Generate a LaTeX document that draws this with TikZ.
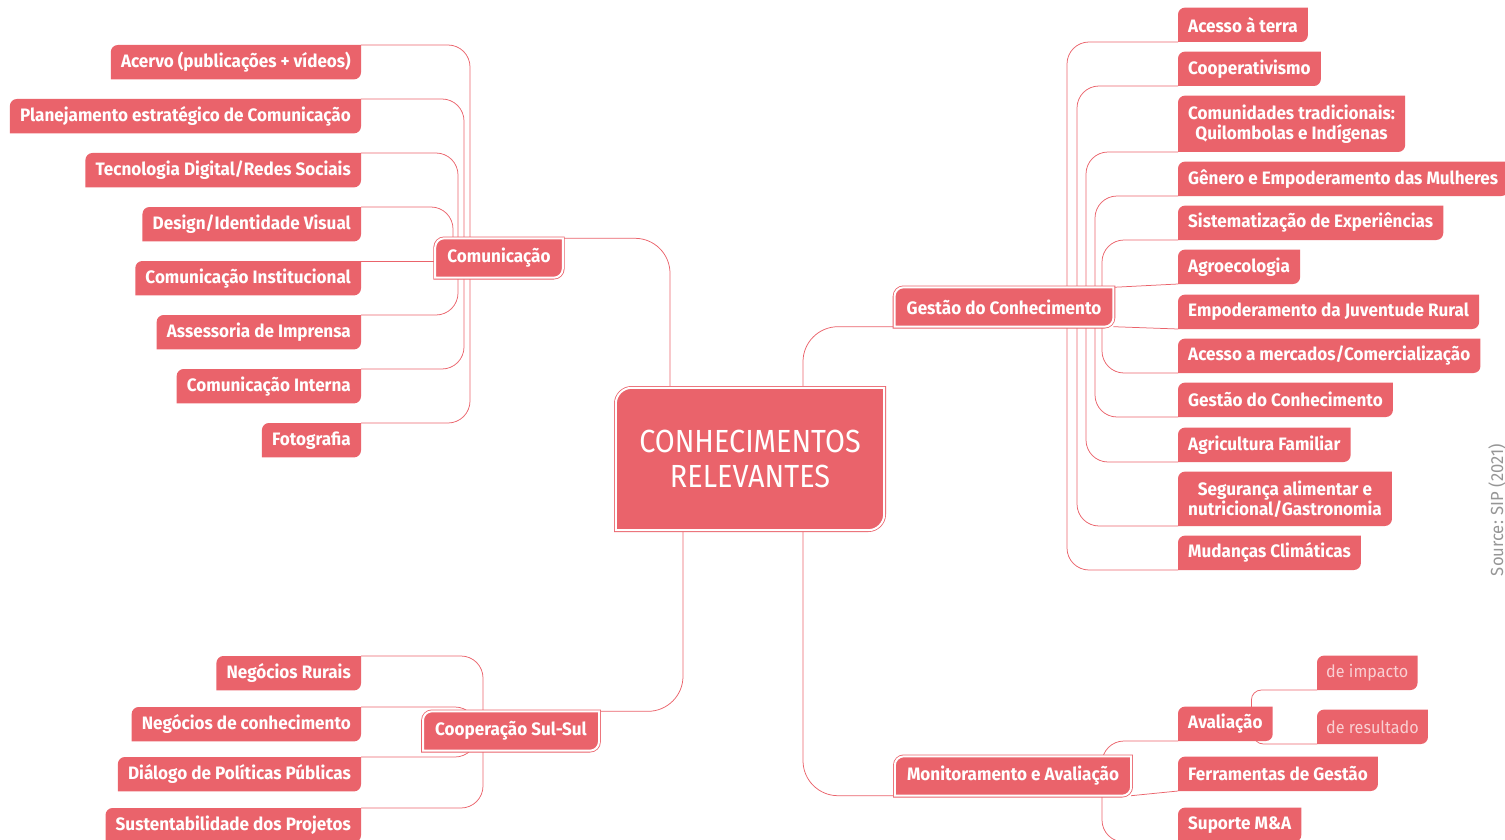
\documentclass[tikz,border=0pt]{standalone}
\usepackage{fontspec}
\setmainfont{Fira Sans}[FakeStretch=0.95]
\newfontfamily\titlefont{Fira Sans}[FakeStretch=0.9]
\usetikzlibrary{backgrounds}

\definecolor{mappink}{RGB}{234,99,107}
\definecolor{softpink}{RGB}{249,208,211}
\definecolor{sourcegray}{RGB}{150,150,150}

\tikzset{
  hub/.style={text=white, font=\titlefont\fontsize{32}{35}\selectfont, align=center,
    minimum width=268, minimum height=142, inner sep=0},
  branch/.style={text=white, font=\bfseries\fontsize{18}{20}\selectfont,
    minimum height=39, inner xsep=12, inner ysep=0},
  leaf/.style={text=white, font=\bfseries\fontsize{18}{20}\selectfont, align=center,
    minimum height=34, inner xsep=10, inner ysep=0},
  subleaf/.style={text=softpink, font=\fontsize{17}{20}\selectfont,
    minimum height=34, inner xsep=9, inner ysep=0},
  frame/.style={fill=mappink, draw=mappink, line width=0.8, double=white, double distance=2},
  link/.style={draw=mappink, line width=0.75, rounded corners=22},
  biglink/.style={link, rounded corners=35},
}

\begin{document}
\begin{tikzpicture}[x=1pt, y=-1pt]
\useasboundingbox (0,0) rectangle (1505,840);

% centre and branches
\node[hub] (core) at (750,459) {CONHECIMENTOS\\RELEVANTES};
\node[branch] (comm) at (499,258) {Comunicação};
\node[branch] (gestao) at (1004,307) {Gestão do Conhecimento};
\node[branch] (coop) at (511,731) {Cooperação Sul-Sul};
\node[branch] (monit) at (1013,776) {Monitoramento e Avaliação};

% Comunicação
\foreach \n/\y/\t in {acervo/45/{Acervo (publicações + vídeos)},
    planej/99/{Planejamento estratégico de Comunicação},
    tecno/153/{Tecnologia Digital/Redes Sociais},
    design/207/{Design/Identidade Visual},
    instit/261/{Comunicação Institucional},
    assess/315/{Assessoria de Imprensa},
    interna/369/{Comunicação Interna},
    foto/423/{Fotografia}}
  \node[leaf, anchor=north east] (\n) at (361,\y) {\t};

% Gestão do Conhecimento
\foreach \n/\y/\h/\t in {terra/42/34/{Acesso à terra},
    cooptv/86/34/{Cooperativismo},
    comunid/152/56/{Comunidades tradicionais:\\Quilombolas e Indígenas},
    genero/196/34/{Gênero e Empoderamento das Mulheres},
    sistem/240/34/{Sistematização de Experiências},
    agro/284/34/{Agroecologia},
    juvent/329/34/{Empoderamento da Juventude Rural},
    mercado/373/34/{Acesso a mercados/Comercialização},
    gcleaf/417/34/{Gestão do Conhecimento},
    agric/462/34/{Agricultura Familiar},
    seguran/526/54/{Segurança alimentar e\\nutricional/Gastronomia},
    mudanca/570/34/{Mudanças Climáticas}}
  \node[leaf, anchor=south west, minimum height=\h] (\n) at (1178,\y) {\t};

% Cooperação Sul-Sul
\foreach \n/\y/\t in {rurais/656/{Negócios Rurais},
    negconh/707/{Negócios de conhecimento},
    dialogo/757/{Diálogo de Políticas Públicas},
    sustent/808/{Sustentabilidade dos Projetos}}
  \node[leaf, anchor=north east] (\n) at (361,\y) {\t};

% Monitoramento e Avaliação
\node[leaf, anchor=south west] (aval) at (1178,741) {Avaliação};
\node[leaf, anchor=south west] (ferram) at (1178,791) {Ferramentas de Gestão};
\node[leaf, anchor=south west] (suporte) at (1178,842) {Suporte M\&A};
\node[subleaf, anchor=south west] (impacto) at (1317,690) {de impacto};
\node[subleaf, anchor=south west] (result) at (1317,744) {de resultado};

\node[text=sourcegray, font=\fontsize{17.5}{18}\selectfont, rotate=90] (src) at (1497,510) {Source: SIP (2021)};

\begin{scope}[on background layer]
% connectors
\draw[biglink] ([xshift=-80]core.center) |- (comm.north east);
\draw[biglink] ([xshift=53]core.center) |- (gestao.south west);
\draw[biglink] ([xshift=-67]core.center) |- (coop.north east);
\draw[biglink] ([xshift=53]core.center) |- (monit.south west);

\foreach \n/\dx in {acervo/-29, planej/-35, tecno/-41, design/-46, assess/-41, interna/-35, foto/-29}
  \draw[link] ([xshift=\dx]comm.center) |- (\n.north east);
\draw[link] (instit.north east) -- (instit.north east -| comm.west);

\foreach \n/\dx in {terra/63, cooptv/73, comunid/82, genero/91, sistem/98,
    mercado/98, gcleaf/91, agric/82, seguran/73, mudanca/63}
  \draw[link] ([xshift=\dx]gestao.center) |- (\n.south west);
\draw[link] (gestao.north east) -- (agro.south west);
\draw[link] (gestao.south east) -- (juvent.south west);

\foreach \n/\dx in {rurais/-28, negconh/-34, dialogo/-34, sustent/-28}
  \draw[link] ([xshift=\dx]coop.center) |- (\n.north east);

\foreach \n in {aval, suporte}
  \draw[link] ([xshift=89]monit.center) |- (\n.south west);
\draw[link] (monit.south east) -- (ferram.south west);
\draw[link, rounded corners=10] ([xshift=26]aval.center) |- (impacto.south west);
\draw[link, rounded corners=10] ([xshift=28]aval.center) |- (result.south west);

% boxes
\foreach \n/\r in {core/16, comm/9, gestao/9, coop/9, monit/9}
  \draw[frame] (\n.north east) [rounded corners=\r] -- (\n.north west) [sharp corners]
    -- (\n.south west) [rounded corners=\r] -- (\n.south east) [sharp corners] -- cycle;
\foreach \n in {acervo, planej, tecno, design, instit, assess, interna, foto,
    terra, cooptv, comunid, genero, sistem, agro, juvent, mercado, gcleaf, agric, seguran, mudanca,
    rurais, negconh, dialogo, sustent, aval, ferram, suporte, impacto, result}
  \fill[mappink] (\n.north east) [rounded corners=7] -- (\n.north west) [sharp corners]
    -- (\n.south west) [rounded corners=7] -- (\n.south east) [sharp corners] -- cycle;
\end{scope}
\end{tikzpicture}
\end{document}
